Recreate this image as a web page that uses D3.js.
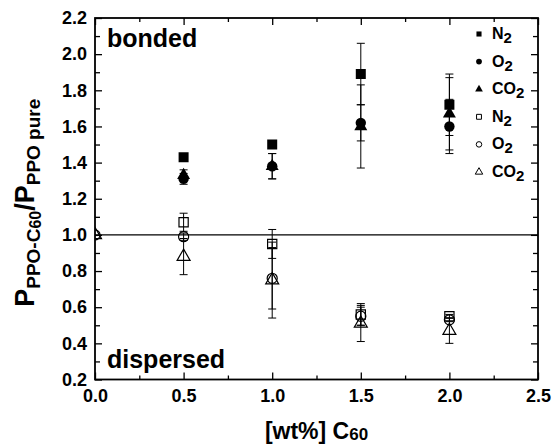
<!DOCTYPE html>
<html>
<head>
<meta charset="utf-8">
<script src="https://cdn.jsdelivr.net/npm/d3@7"></script>
<style>
  body { margin: 0; background: #fff; }
  text { font-family: Arial, "Liberation Sans", sans-serif; font-weight: bold; fill: #000; }
</style>
</head>
<body>
<svg id="chart" width="553" height="445"></svg>
<script>
// C60 loading, wt%
const loadings = [0, 0.5, 1.0, 1.5, 2.0];

// bonded samples (filled symbols)
const bondedN2 = [null, 1.43, 1.50, 1.89, 1.72];
const bondedN2Err = [0, 0.02, 0.02, 0.17, 0.17];
const bondedO2 = [null, 1.31, 1.38, 1.62, 1.60];
const bondedO2Err = [0, 0.03, 0.07, 0.10, 0.15];
const bondedCO2 = [null, 1.33, 1.38, 1.60, 1.67];
const bondedCO2Err = [0, 0.03, 0.07, 0.23, 0.20];

// dispersed samples (open symbols)
const dispN2 = [null, 1.07, 0.95, 0.56, 0.55];
const dispN2Err = [0, 0.05, 0.08, 0.06, 0.01];
const dispO2 = [1.0, 0.99, 0.76, 0.55, 0.53];
const dispO2Err = [0, 0.02, 0.17, 0.05, 0.01];
const dispCO2 = [1.0, 0.88, 0.75, 0.51, 0.47];
const dispCO2Err = [0, 0.10, 0.21, 0.10, 0.07];

const xTicks = [0, 0.5, 1.0, 1.5, 2.0, 2.5];
const yTicks = [0.2, 0.4, 0.6, 0.8, 1.0, 1.2, 1.4, 1.6, 1.8, 2.0, 2.2];

const series = [
  { gas: "N", shape: d3.symbolSquare, size: 100, filled: true, vals: bondedN2, errs: bondedN2Err },
  { gas: "O", shape: d3.symbolCircle, size: 85, filled: true, vals: bondedO2, errs: bondedO2Err },
  { gas: "CO", shape: d3.symbolTriangle, size: 73, filled: true, vals: bondedCO2, errs: bondedCO2Err },
  { gas: "N", shape: d3.symbolSquare, size: 85, filled: false, vals: dispN2, errs: dispN2Err },
  { gas: "O", shape: d3.symbolCircle, size: 80, filled: false, vals: dispO2, errs: dispO2Err },
  { gas: "CO", shape: d3.symbolTriangle, size: 73, filled: false, vals: dispCO2, errs: dispCO2Err }
];

const pLeft = 95, pRight = 538, pTop = 18, pBottom = 379.5;
const svg = d3.select("#chart");

const x = d3.scaleLinear().domain([0, 2.5]).range([pLeft, pRight]);
const y = d3.scaleLinear().domain([0.2, 2.2]).range([pBottom, pTop]);

svg.append("defs").append("clipPath").attr("id", "plot-clip")
  .append("rect")
  .attr("x", pLeft).attr("y", pTop)
  .attr("width", pRight - pLeft).attr("height", pBottom - pTop);

// axes: major ticks with labels, minor ticks without, all pointing inward
const xMinor = [0.25, 0.75, 1.25, 1.75, 2.25];
const yMinor = d3.range(0.3, 2.2, 0.2);

function styleAxis(g) {
  g.select(".domain").remove();
  g.selectAll("line").attr("stroke", "#000").attr("stroke-width", 1.3);
  g.selectAll("text").style("font-size", "18px").style("font-family", "Arial, 'Liberation Sans', sans-serif").style("font-weight", "bold");
}

svg.append("g").attr("transform", `translate(0,${pBottom})`)
  .call(d3.axisBottom(x).tickValues(xTicks).tickSize(-7).tickPadding(10).tickFormat(d3.format(".1f")))
  .call(styleAxis);
svg.append("g").attr("transform", `translate(0,${pBottom})`)
  .call(d3.axisBottom(x).tickValues(xMinor).tickSize(-4).tickFormat(""))
  .call(styleAxis);
svg.append("g").attr("transform", `translate(0,${pTop})`)
  .call(d3.axisTop(x).tickValues(xTicks).tickSize(-7).tickFormat(""))
  .call(styleAxis);
svg.append("g").attr("transform", `translate(0,${pTop})`)
  .call(d3.axisTop(x).tickValues(xMinor).tickSize(-4).tickFormat(""))
  .call(styleAxis);

svg.append("g").attr("transform", `translate(${pLeft},0)`)
  .call(d3.axisLeft(y).tickValues(yTicks).tickSize(-7).tickPadding(8).tickFormat(d3.format(".1f")))
  .call(styleAxis);
svg.append("g").attr("transform", `translate(${pLeft},0)`)
  .call(d3.axisLeft(y).tickValues(yMinor).tickSize(-5).tickFormat(""))
  .call(styleAxis);
svg.append("g").attr("transform", `translate(${pRight},0)`)
  .call(d3.axisRight(y).tickValues(yTicks).tickSize(-7).tickFormat(""))
  .call(styleAxis);
svg.append("g").attr("transform", `translate(${pRight},0)`)
  .call(d3.axisRight(y).tickValues(yMinor).tickSize(-5).tickFormat(""))
  .call(styleAxis);

// reference line at ratio 1
svg.append("line")
  .attr("x1", pLeft).attr("x2", pRight)
  .attr("y1", y(1.0)).attr("y2", y(1.0))
  .attr("stroke", "#000").attr("stroke-width", 1.2);

const plot = svg.append("g").attr("clip-path", "url(#plot-clip)");

// error bars
series.forEach(s => {
  const pts = loadings.map((l, i) => ({ l, v: s.vals[i], e: s.errs[i] }))
    .filter(d => d.v != null && d.e > 0);
  const g = plot.append("g").attr("stroke", "#000").attr("stroke-width", 1);
  g.selectAll(".stem").data(pts).enter().append("line")
    .attr("x1", d => x(d.l)).attr("x2", d => x(d.l))
    .attr("y1", d => y(d.v - d.e)).attr("y2", d => y(d.v + d.e));
  [-1, 1].forEach(sign => {
    g.selectAll(".cap" + sign).data(pts).enter().append("line")
      .attr("x1", d => x(d.l) - 4).attr("x2", d => x(d.l) + 4)
      .attr("y1", d => y(d.v + sign * d.e)).attr("y2", d => y(d.v + sign * d.e));
  });
});

// markers
series.forEach(s => {
  const pts = loadings.map((l, i) => ({ l, v: s.vals[i] })).filter(d => d.v != null);
  plot.append("g").selectAll("path").data(pts).enter().append("path")
    .attr("d", d3.symbol().type(s.shape).size(s.size))
    .attr("transform", d => `translate(${x(d.l)},${y(d.v)})`)
    .attr("fill", s.filled ? "#000" : "none")
    .attr("stroke", "#000")
    .attr("stroke-width", s.filled ? 0 : 1.2);
});

// frame
svg.append("rect")
  .attr("x", pLeft).attr("y", pTop)
  .attr("width", pRight - pLeft).attr("height", pBottom - pTop)
  .attr("fill", "none").attr("stroke", "#000").attr("stroke-width", 1.8);

// legend
const legend = svg.append("g");
series.forEach((s, i) => {
  const ly = 34 + i * 27.6;
  legend.append("path")
    .attr("d", d3.symbol().type(s.shape).size(s.filled ? 26 : 24))
    .attr("transform", `translate(479,${ly})`)
    .attr("fill", s.filled ? "#000" : "none")
    .attr("stroke", "#000")
    .attr("stroke-width", s.filled ? 0 : 1);
  const t = legend.append("text").attr("x", 492).attr("y", ly + 5).style("font-size", "16px");
  t.append("tspan").text(s.gas);
  t.append("tspan").attr("dy", 4).style("font-size", "15px").text("2");
});

// panel labels
svg.append("text").attr("x", 107).attr("y", 47).style("font-size", "25px").text("bonded");
svg.append("text").attr("x", 107).attr("y", 368).style("font-size", "25px").text("dispersed");

// axis titles
const xt = svg.append("text")
  .attr("x", (pLeft + pRight) / 2).attr("y", 439)
  .attr("text-anchor", "middle").style("font-size", "23px");
xt.append("tspan").text("[wt%] C");
xt.append("tspan").attr("dy", 1).style("font-size", "17px").text("60");

const yt = svg.append("text")
  .attr("transform", `translate(34,${(pTop + pBottom) / 2 + 4}) rotate(-90)`)
  .attr("text-anchor", "middle").style("font-size", "27px");
yt.append("tspan").text("P");
yt.append("tspan").attr("dy", 6).style("font-size", "19px").text("PPO-C");
yt.append("tspan").attr("dy", 1).style("font-size", "16px").text("60");
yt.append("tspan").attr("dy", -7).text("/P");
yt.append("tspan").attr("dy", 6).style("font-size", "19px").text("PPO pure");
</script>
</body>
</html>
